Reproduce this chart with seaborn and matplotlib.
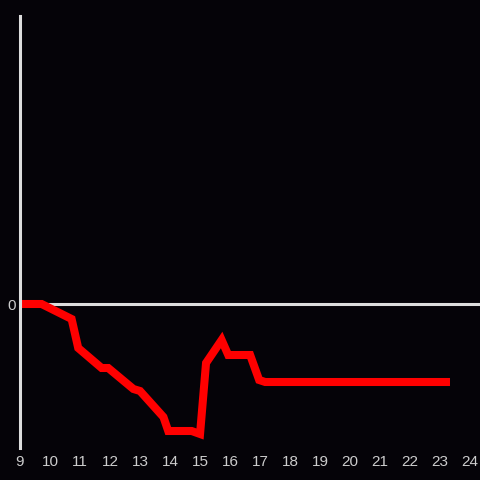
# Line chart: value over the day, dark theme
import pandas as pd
import matplotlib
matplotlib.use("Agg")
import matplotlib.pyplot as plt
import seaborn as sns

# data (hour of day, value)
hours = [9.0, 9.72, 10.72, 10.94, 11.72, 11.94, 12.78, 13.0, 13.78, 13.94,
         14.72, 15.0, 15.2, 15.72, 15.94, 16.67, 16.97, 17.17, 23.33]
values = [0, 0, -15, -44, -64, -64, -85, -87, -113, -127,
          -127, -130, -59, -36, -51, -51, -76, -78, -78]
x_ticks = list(range(9, 25))

df = pd.DataFrame({"hour": hours, "value": values})

sns.set_theme(style="dark")
plt.rcParams["font.family"] = ["Liberation Sans", "DejaVu Sans"]

bg = "#050308"
fig = plt.figure(figsize=(4.8, 4.8), dpi=100, facecolor=bg)
ax = fig.add_axes([20 / 480, 32 / 480, 460 / 480, 432 / 480])
ax.set_facecolor(bg)

sns.lineplot(data=df, x="hour", y="value", color="#ff0000", linewidth=5.8,
             ax=ax, solid_capstyle="butt", solid_joinstyle="miter")
ax.axhline(0, color="#dddddd", linewidth=2.2, zorder=1)

ax.set_xlim(9, 24.33)
ax.set_ylim(-144, 288)
ax.set_xticks(x_ticks)
ax.set_yticks([0])
ax.set_xlabel("")
ax.set_ylabel("")
ax.grid(False)
ax.tick_params(colors="#cccccc", labelsize=11, length=0, pad=5)
ax.tick_params(axis="y", pad=3)

for side in ["top", "right", "bottom"]:
    ax.spines[side].set_visible(False)
ax.spines["left"].set_color("#dddddd")
ax.spines["left"].set_linewidth(2.2)

fig.savefig("out.png", dpi=100, facecolor=bg)
